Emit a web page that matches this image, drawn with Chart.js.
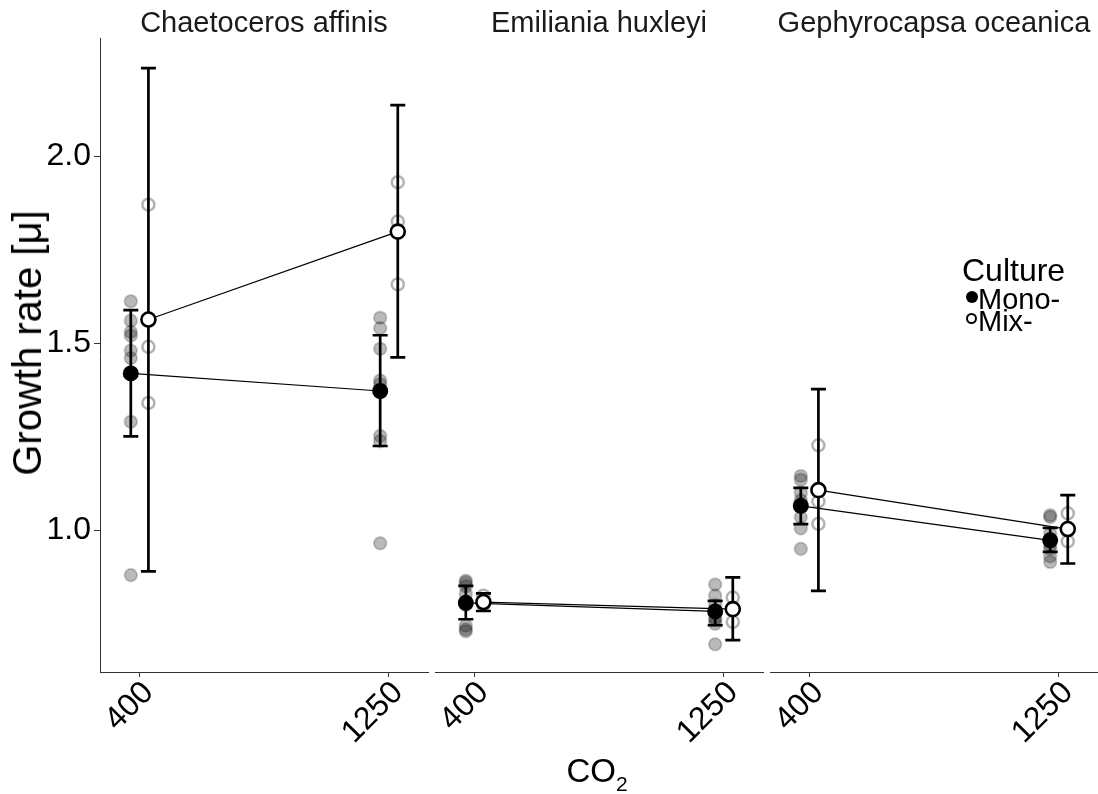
<!DOCTYPE html>
<html>
<head>
<meta charset="utf-8">
<script src="https://cdn.jsdelivr.net/npm/chart.js@4.4.0/dist/chart.umd.min.js"></script>
<style>
  html, body { margin:0; padding:0; background:#fff; width:1098px; height:794px; overflow:hidden; }
  #wrap { position:relative; width:1098px; height:794px; overflow:hidden; font-family:"Liberation Sans", Arial, sans-serif; color:#000; }
  #wrap canvas { position:absolute; left:0; top:0; }
  .txt { position:absolute; white-space:nowrap; line-height:1; }
  .strip { top:8px; width:328px; text-align:center; font-size:29px; color:#1a1a1a; }
  .dot { position:absolute; box-sizing:border-box; border-radius:50%; }
</style>
</head>
<body>
<div id="wrap">
  <div class="txt" id="ytitle" style="left:27px; top:343px; font-size:40px; transform:translate(-50%,-50%) rotate(-90deg);">Growth rate [μ]</div>
  <div class="txt" id="xtitle" style="left:100px; width:994px; top:754px; text-align:center; font-size:33px;">CO<span style="font-size:21px; position:relative; top:9px;">2</span></div>
  <div class="txt" style="left:962px; top:254px; font-size:32px;">Culture</div>
  <div class="dot" style="left:966px; top:291px; width:12px; height:12px; background:#000;"></div>
  <div class="txt" style="left:978px; top:285px; font-size:29px;">Mono-</div>
  <div class="dot" style="left:966px; top:313px; width:11px; height:11px; border:2px solid #000; background:#fff;"></div>
  <div class="txt" style="left:978px; top:307px; font-size:29px;">Mix-</div>
</div>
<script>
// ---------------- data ----------------
const species = ['Chaetoceros affinis', 'Emiliania huxleyi', 'Gephyrocapsa oceanica'];
const co2Levels = [400, 1250];
const xTickLabels = ['400', '1250'];
const yTickValues = [1.0, 1.5, 2.0];
const cultures = ['Mono-', 'Mix-'];

// means and error-bar limits: [species][co2 level]
const monoMean = [[1.419, 1.372], [0.806, 0.783], [1.065, 0.973]];
const monoLow  = [[1.251, 1.225], [0.762, 0.746], [1.016, 0.942]];
const monoHigh = [[1.588, 1.521], [0.851, 0.811], [1.113, 1.006]];
const mixMean  = [[1.563, 1.798], [0.808, 0.789], [1.107, 1.003]];
const mixLow   = [[0.890, 1.462], [0.784, 0.706], [0.838, 0.911]];
const mixHigh  = [[2.235, 2.136], [0.831, 0.874], [1.377, 1.094]];

// individual replicates: [species][co2 level][replicate]
const monoReps = [
  [[1.612, 1.56, 1.53, 1.52, 1.48, 1.46, 1.29, 0.88], [1.568, 1.54, 1.485, 1.40, 1.39, 1.252, 1.238, 0.965]],
  [[0.865, 0.86, 0.85, 0.83, 0.80, 0.745, 0.735, 0.73], [0.855, 0.825, 0.80, 0.78, 0.765, 0.76, 0.75, 0.695]],
  [[1.145, 1.135, 1.10, 1.08, 1.07, 1.035, 1.005, 0.95], [1.04, 1.035, 0.99, 0.975, 0.96, 0.95, 0.93, 0.915]]
];
const mixReps = [
  [[1.87, 1.49, 1.34], [1.93, 1.825, 1.657]],
  [[0.825, 0.81, 0.80], [0.82, 0.79, 0.755]],
  [[1.227, 1.077, 1.017], [1.045, 1.0, 0.97]]
];

// ---------------- layout / style ----------------
const FONT = '"Liberation Sans", Arial, sans-serif';
const CW = 1130, CH = 794;
const PANEL_LEFT = [100, 435, 770];
const PANEL_W = 328;
const PLOT_TOP = 38, PLOT_BOTTOM = 672;
const X_MIN = 265, X_MAX = 1383;
const Y_MIN = 0.621, Y_MAX = 2.3155;
const DODGE = 30;   // position dodge in x units
const CAP = 7.5;    // half width of error bar caps (px)
const AXIS_COL = '#333';

const wrap = document.getElementById('wrap');

// strip titles
species.forEach((s, p) => {
  const d = document.createElement('div');
  d.className = 'txt strip';
  d.style.left = PANEL_LEFT[p] + 'px';
  d.textContent = s;
  wrap.appendChild(d);
});

const errorBarPlugin = {
  id: 'errorBars',
  afterDatasetDraw(chart, args) {
    if (args.index !== 4) return; // after replicate points, before lines & means
    const { ctx, scales: { x, y } } = chart;
    ctx.save();
    ctx.strokeStyle = '#000';
    ctx.lineWidth = 2.7;
    chart.data.datasets.forEach(ds => {
      if (!ds.errLow) return;
      ds.data.forEach((pt, i) => {
        const px = x.getPixelForValue(pt.x);
        const yl = y.getPixelForValue(ds.errLow[i]);
        const yh = y.getPixelForValue(ds.errHigh[i]);
        ctx.beginPath();
        ctx.moveTo(px, yl); ctx.lineTo(px, yh);
        ctx.moveTo(px - CAP, yl); ctx.lineTo(px + CAP, yl);
        ctx.moveTo(px - CAP, yh); ctx.lineTo(px + CAP, yh);
        ctx.stroke();
      });
    });
    ctx.restore();
  }
};

function pts(xs, ys) { return xs.map((x, i) => ({ x, y: ys[i] })); }
function repPts(reps, xs) { return reps.flatMap((arr, i) => arr.map(v => ({ x: xs[i], y: v }))); }

function buildPanel(p) {
  const canvas = document.createElement('canvas');
  canvas.width = CW; canvas.height = CH;
  canvas.style.width = CW + 'px'; canvas.style.height = CH + 'px';
  wrap.insertBefore(canvas, wrap.firstChild);

  const monoX = co2Levels.map(c => c - DODGE);
  const mixX = co2Levels.map(c => c + DODGE);

  const datasets = [
    { label: cultures[0] + ' mean', data: pts(monoX, monoMean[p]), showLine: false,
      pointRadius: 8, pointBackgroundColor: '#000', pointBorderColor: '#000', pointBorderWidth: 0,
      errLow: monoLow[p], errHigh: monoHigh[p] },
    { label: cultures[1] + ' mean', data: pts(mixX, mixMean[p]), showLine: false,
      pointRadius: 7, pointBackgroundColor: '#fff', pointBorderColor: '#000', pointBorderWidth: 2.6,
      errLow: mixLow[p], errHigh: mixHigh[p] },
    { label: cultures[0] + ' line', data: pts(monoX, monoMean[p]), showLine: true, fill: false,
      pointRadius: 0, borderColor: '#000', borderWidth: 1.2 },
    { label: cultures[1] + ' line', data: pts(mixX, mixMean[p]), showLine: true, fill: false,
      pointRadius: 0, borderColor: '#000', borderWidth: 1.2 },
    { label: cultures[0] + ' replicates', data: repPts(monoReps[p], monoX), showLine: false,
      pointRadius: 6.3, pointBackgroundColor: 'rgba(0,0,0,0.27)', pointBorderColor: 'rgba(0,0,0,0.18)', pointBorderWidth: 2 },
    { label: cultures[1] + ' replicates', data: repPts(mixReps[p], mixX), showLine: false,
      pointRadius: 6, pointBackgroundColor: 'rgba(0,0,0,0)', pointBorderColor: 'rgba(0,0,0,0.3)', pointBorderWidth: 2.5 }
  ];

  return new Chart(canvas, {
    type: 'scatter',
    data: { datasets },
    plugins: [errorBarPlugin],
    options: {
      responsive: false, animation: false, devicePixelRatio: 1,
      layout: { padding: { left: p === 0 ? 0 : PANEL_LEFT[p], right: CW - PANEL_LEFT[p] - PANEL_W, top: PLOT_TOP, bottom: 0 } },
      plugins: { legend: { display: false }, tooltip: { enabled: false }, title: { display: false } },
      scales: {
        x: {
          type: 'linear', position: 'bottom', min: X_MIN, max: X_MAX,
          afterBuildTicks: ax => { ax.ticks = co2Levels.map(v => ({ value: v })); },
          afterFit: ax => { ax.height = CH - PLOT_BOTTOM; },
          ticks: { autoSkip: false, minRotation: 45, maxRotation: 45, padding: -3, labelOffset: 9, color: '#000',
                   font: { family: FONT, size: 32 },
                   callback: v => xTickLabels[co2Levels.indexOf(v)] },
          grid: { display: true, drawOnChartArea: false, drawTicks: true, tickLength: 5, color: AXIS_COL, lineWidth: 1 },
          border: { display: true, color: AXIS_COL, width: 1 }
        },
        y: {
          type: 'linear', display: p === 0, min: Y_MIN, max: Y_MAX,
          afterBuildTicks: ax => { ax.ticks = yTickValues.map(v => ({ value: v })); },
          afterFit: ax => { ax.width = p === 0 ? PANEL_LEFT[0] : 0; },
          ticks: { padding: 3, color: '#000', font: { family: FONT, size: 32 }, callback: v => v.toFixed(1) },
          grid: { display: true, drawOnChartArea: false, drawTicks: true, tickLength: 6, color: AXIS_COL, lineWidth: 1 },
          border: { display: true, color: AXIS_COL, width: 1 }
        }
      }
    }
  });
}

[0, 1, 2].forEach(buildPanel);
</script>
</body>
</html>
